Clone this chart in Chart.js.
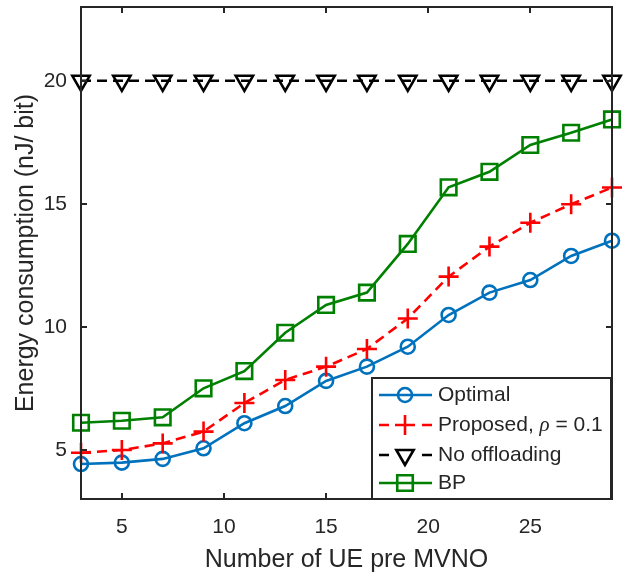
<!DOCTYPE html>
<html>
<head>
<meta charset="utf-8">
<script src="https://cdn.jsdelivr.net/npm/chart.js@4.4.1/dist/chart.umd.min.js"></script>
<style>
  html, body { margin: 0; padding: 0; background: #ffffff; }
  #wrap { width: 641px; height: 576px; }
</style>
</head>
<body>
<div id="wrap"><canvas id="c" width="641" height="576"></canvas></div>
<script>
// ---- data ----
const ueCounts   = [3, 5, 7, 9, 11, 13, 15, 17, 19, 21, 23, 25, 27, 29];
const optimal    = [4.42, 4.48, 4.63, 5.06, 6.08, 6.78, 7.8, 8.38, 9.19, 10.48, 11.39, 11.9, 12.88, 13.5];
const proposed   = [4.88, 4.99, 5.26, 5.74, 6.9, 7.84, 8.38, 9.1, 10.34, 12.04, 13.26, 14.23, 14.98, 15.66];
const noOffload  = [20, 20, 20, 20, 20, 20, 20, 20, 20, 20, 20, 20, 20, 20];
const bp         = [6.1, 6.18, 6.32, 7.5, 8.2, 9.76, 10.89, 11.39, 13.37, 15.67, 16.3, 17.39, 17.89, 18.43];
const xTicks     = [5, 10, 15, 20, 25];
const yTicks     = [5, 10, 15, 20];
const seriesNames = ['Optimal', 'Proposed, ', 'No offloading', 'BP'];
const xTitle = 'Number of UE pre MVNO';
const yTitle = 'Energy consumption (nJ/ bit)';

const FONT = '"Liberation Sans", Arial, Helvetica, sans-serif';
const AXIS_COLOR = '#262626';
const BLUE = '#0072BD', RED = '#FF0000', BLACK = '#000000', GREEN = '#008000';

const toPts = arr => ueCounts.map((x, i) => ({ x: x, y: arr[i] }));

const styles = [
  { color: BLUE,  dash: [],      pointStyle: 'circle',   radius: 7,  rotation: 0 },
  { color: RED,   dash: [10, 6], pointStyle: 'cross',    radius: 10, rotation: 0 },
  { color: BLACK, dash: [10, 6], pointStyle: 'triangle', radius: 10, rotation: 180 },
  { color: GREEN, dash: [],      pointStyle: 'rect',     radius: 11, rotation: 0 }
];
const seriesData = [optimal, proposed, noOffload, bp];

const datasets = seriesData.map((d, i) => ({
  label: seriesNames[i],
  data: toPts(d),
  borderColor: styles[i].color,
  backgroundColor: 'rgba(0,0,0,0)',
  borderWidth: 2.6,
  borderDash: styles[i].dash,
  pointStyle: styles[i].pointStyle,
  pointRadius: styles[i].radius,
  pointRotation: styles[i].rotation,
  pointBorderWidth: 2.6,
  pointBorderColor: styles[i].color,
  pointBackgroundColor: 'rgba(0,0,0,0)',
  pointHoverRadius: styles[i].radius,
  fill: false,
  tension: 0,
  clip: false,
  order: 4 - i
}));

// frame with inward ticks (MATLAB style box)
const framePlugin = {
  id: 'frame',
  afterDatasetsDraw(chart) {
    const { ctx, chartArea: a, scales } = chart;
    ctx.save();
    ctx.strokeStyle = AXIS_COLOR;
    ctx.lineWidth = 2;
    ctx.setLineDash([]);
    ctx.strokeRect(a.left, a.top, a.right - a.left, a.bottom - a.top);
    const tl = 6;
    ctx.beginPath();
    xTicks.forEach(v => {
      const px = Math.round(scales.x.getPixelForValue(v));
      ctx.moveTo(px, a.bottom); ctx.lineTo(px, a.bottom - tl);
      ctx.moveTo(px, a.top); ctx.lineTo(px, a.top + tl);
    });
    yTicks.forEach(v => {
      const py = Math.round(scales.y.getPixelForValue(v));
      ctx.moveTo(a.left, py); ctx.lineTo(a.left + tl, py);
      ctx.moveTo(a.right, py); ctx.lineTo(a.right - tl, py);
    });
    ctx.stroke();
    ctx.restore();
  }
};

// legend drawn like MATLAB's box legend
const legendPlugin = {
  id: 'matlabLegend',
  afterDraw(chart) {
    const { ctx } = chart;
    const box = { l: 372, t: 378, r: 611, b: 499 };
    ctx.save();
    ctx.fillStyle = '#ffffff';
    ctx.fillRect(box.l, box.t, box.r - box.l, box.b - box.t);
    ctx.strokeStyle = AXIS_COLOR;
    ctx.lineWidth = 2;
    ctx.strokeRect(box.l, box.t, box.r - box.l, box.b - box.t);
    const rows = [395, 425, 455, 483];
    const x0 = 379, x1 = 432, xm = 405;
    rows.forEach((y, i) => {
      const s = styles[i];
      ctx.strokeStyle = s.color;
      ctx.lineWidth = 2.6;
      ctx.setLineDash([]);
      ctx.beginPath();
      if (s.dash.length) {
        ctx.moveTo(x0, y); ctx.lineTo(x0 + 10, y);
        ctx.moveTo(x1 - 10, y); ctx.lineTo(x1, y);
      } else {
        ctx.moveTo(x0, y); ctx.lineTo(x1, y);
      }
      ctx.stroke();
      ctx.fillStyle = 'rgba(0,0,0,0)';
      ctx.strokeStyle = s.color;
      Chart.helpers.drawPoint(ctx, {
        pointStyle: s.pointStyle, radius: s.radius, rotation: s.rotation,
        borderWidth: 2.6
      }, xm, y);
      ctx.fillStyle = AXIS_COLOR;
      ctx.textBaseline = 'middle';
      ctx.textAlign = 'left';
      ctx.font = '21px ' + FONT;
      ctx.fillText(seriesNames[i], 438, y);
      if (i === 1) {
        let w = ctx.measureText(seriesNames[i]).width;
        ctx.font = 'italic 21px "Liberation Serif", "Times New Roman", serif';
        ctx.fillText('\u03C1', 438 + w, y);
        w += ctx.measureText('\u03C1').width;
        ctx.font = '21px ' + FONT;
        ctx.fillText(' = 0.1', 438 + w, y);
      }
    });
    ctx.restore();
  }
};

new Chart(document.getElementById('c'), {
  type: 'line',
  data: { datasets: datasets },
  options: {
    responsive: false,
    animation: false,
    devicePixelRatio: 1,
    layout: { autoPadding: false, padding: { top: 7, right: 29, left: 0, bottom: 0 } },
    plugins: { legend: { display: false }, tooltip: { enabled: false } },
    scales: {
      x: {
        type: 'linear',
        min: 3, max: 29,
        afterBuildTicks: s => { s.ticks = xTicks.map(v => ({ value: v })); },
        afterFit: s => { s.height = 77; s.paddingLeft = 0; s.paddingRight = 0; s.paddingTop = 0; s.paddingBottom = 0; },
        grid: { display: false, drawTicks: false },
        border: { display: false },
        ticks: { color: AXIS_COLOR, font: { family: FONT, size: 21 }, padding: 16, maxRotation: 0 },
        title: { display: true, text: xTitle, color: AXIS_COLOR, font: { family: FONT, size: 25 }, padding: { top: 0, bottom: 1 } }
      },
      y: {
        type: 'linear',
        min: 3, max: 23,
        afterBuildTicks: s => { s.ticks = yTicks.map(v => ({ value: v })); },
        afterFit: s => { s.width = 81; s.paddingLeft = 0; s.paddingRight = 0; s.paddingTop = 0; s.paddingBottom = 0; },
        grid: { display: false, drawTicks: false },
        border: { display: false },
        ticks: { color: AXIS_COLOR, font: { family: FONT, size: 21 }, padding: 14 },
        title: { display: true, text: yTitle, color: AXIS_COLOR, font: { family: FONT, size: 25 }, padding: { top: 11, bottom: 0 } }
      }
    }
  },
  plugins: [framePlugin, legendPlugin]
});
</script>
</body>
</html>
